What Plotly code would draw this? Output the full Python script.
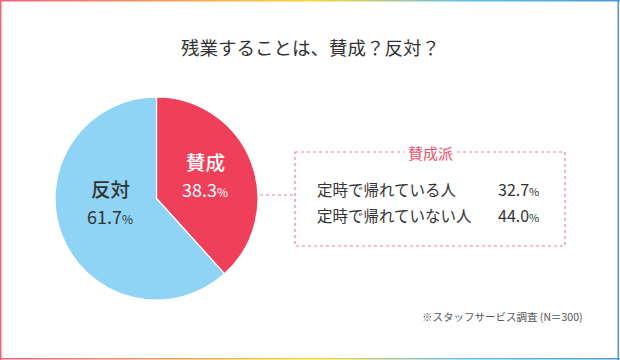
import plotly.graph_objects as go

# ---- data ----
title_text = "残業することは、賛成？反対？"
pie_labels = ["賛成", "反対"]
pie_values = [38.3, 61.7]
pie_colors = ["#f03f5b", "#8fd4f5"]
box_title = "賛成派"
sub_labels = ["定時で帰れている人", "定時で帰れていない人"]
sub_values = [32.7, 44.0]
footnote = "※スタッフサービス調査 (N＝300)"

W, H = 620, 360
FONT = "Noto Sans CJK JP"

fig = go.Figure()

# pie
cx, cy, r = 156.5, 198.5, 101.5
fig.add_trace(go.Pie(
    labels=pie_labels, values=pie_values, sort=False, direction="clockwise",
    rotation=0, marker=dict(colors=pie_colors, line=dict(color="white", width=1.2)),
    textinfo="none", hoverinfo="label+percent", showlegend=False,
    domain=dict(x=[(cx - r) / W, (cx + r) / W], y=[(H - cy - r) / H, (H - cy + r) / H]),
))

fig.update_layout(
    width=W, height=H, margin=dict(l=0, r=0, t=0, b=0),
    paper_bgcolor="white", plot_bgcolor="white",
    xaxis=dict(range=[0, W], visible=False, fixedrange=True),
    yaxis=dict(range=[H, 0], visible=False, fixedrange=True),
    font=dict(family=FONT, color="#333333"),
)

shapes = []
# gradient frame
stops = [(0.0, (240, 98, 126)), (0.25, (245, 150, 95)), (0.5, (253, 214, 52)),
         (0.75, (100, 190, 235)), (1.0, (75, 152, 212))]

def grad(t):
    for (t0, c0), (t1, c1) in zip(stops[:-1], stops[1:]):
        if t0 <= t <= t1:
            f = (t - t0) / (t1 - t0)
            return "rgb(%d,%d,%d)" % tuple(round(a + (b - a) * f) for a, b in zip(c0, c1))
    return "rgb(%d,%d,%d)" % stops[-1][1]

N = 124
for i in range(N):
    x0, x1 = W * i / N, W * (i + 1) / N
    col = grad((i + 0.5) / N)
    for y in (0.75, H - 1.25):
        shapes.append(dict(type="line", xref="x", yref="y", x0=x0, x1=x1, y0=y, y1=y,
                           line=dict(color=col, width=1.5), layer="above"))
shapes.append(dict(type="line", xref="x", yref="y", x0=0.75, x1=0.75, y0=0, y1=H,
                   line=dict(color=grad(0), width=1.5)))
shapes.append(dict(type="line", xref="x", yref="y", x0=W - 1.75, x1=W - 1.75, y0=0, y1=H,
                   line=dict(color=grad(1), width=1.5)))

pink = "#f0829a"
# dotted box + connector
shapes.append(dict(type="rect", xref="x", yref="y", x0=295, x1=565, y0=152, y1=246,
                   line=dict(color=pink, width=1.2, dash="dot")))
shapes.append(dict(type="line", xref="x", yref="y", x0=cx + r + 2, x1=295, y0=195, y1=195,
                   line=dict(color=pink, width=1.2, dash="dot")))
fig.update_layout(shapes=shapes)

ann = []
ann.append(dict(x=W / 2, y=47, text=title_text, showarrow=False,
                font=dict(size=18.5, color="#333333", family=FONT)))

def pct(v, size):
    return "%.1f<span style='font-size:%dpx'>%%</span>" % (v, size)

# pie labels
ann.append(dict(x=205, y=161, text=pie_labels[0], showarrow=False,
                font=dict(size=19.5, color="white", family=FONT, weight=500)))
ann.append(dict(x=205, y=189, text=pct(pie_values[0], 12), showarrow=False,
                font=dict(size=18, color="white", family=FONT)))
ann.append(dict(x=110, y=188, text=pie_labels[1], showarrow=False,
                font=dict(size=19.5, color="#333333", family=FONT, weight=500)))
ann.append(dict(x=110, y=216, text=pct(pie_values[1], 12), showarrow=False,
                font=dict(size=18, color="#333333", family=FONT)))

# box title
ann.append(dict(x=430, y=152, text=box_title, showarrow=False, bgcolor="white",
                borderpad=3, font=dict(size=15, color="#f0506c", family=FONT)))
# rows
for i, (lab, val) in enumerate(zip(sub_labels, sub_values)):
    yy = 189 + 26 * i
    ann.append(dict(x=315, y=yy, text=lab, showarrow=False, xanchor="left",
                    font=dict(size=15.5, color="#333333", family=FONT)))
    ann.append(dict(x=496, y=yy, text=pct(val, 11), showarrow=False, xanchor="left",
                    font=dict(size=16, color="#333333", family=FONT)))

ann.append(dict(x=502, y=316, text=footnote, showarrow=False,
                font=dict(size=10.5, color="#555555", family=FONT)))
for a in ann:
    a.setdefault("xref", "x")
    a.setdefault("yref", "y")
fig.update_layout(annotations=ann)

fig.write_html("out.html", config={"displayModeBar": False},
               post_script="document.body.style.margin='0';document.body.style.overflow='hidden';")
